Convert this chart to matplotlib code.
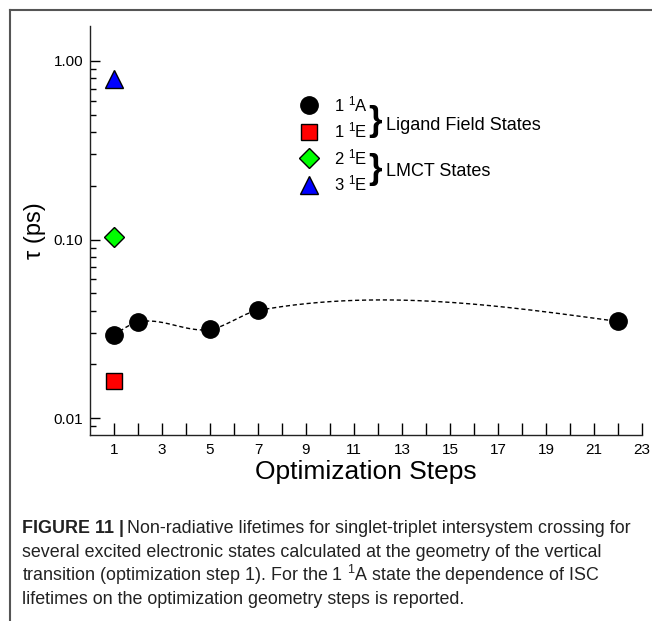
import numpy as np
import matplotlib
matplotlib.use("Agg")
import matplotlib.pyplot as plt
from matplotlib.lines import Line2D

plt.rcParams.update({
    "font.family": ["Liberation Sans", "DejaVu Sans"],
    "mathtext.fontset": "custom",
    "mathtext.rm": "Liberation Sans",
    "mathtext.it": "Liberation Sans:italic",
    "mathtext.bf": "Liberation Sans:bold",
})

# data
steps_1A = [1, 2, 5, 7, 22]
tau_1A = [0.0291, 0.0345, 0.0314, 0.0401, 0.0348]
step_1E, tau_1E = [1], [0.0161]
step_2E, tau_2E = [1], [0.103]
step_3E, tau_3E = [1], [0.79]

W, H = 652, 621
DPI = 100


def smooth_guide(x, y, n=60):
    """cubic Hermite through the points (log space), for the dashed guide."""
    x = np.asarray(x, float)
    ly = np.log10(np.asarray(y, float))
    sec = np.diff(ly) / np.diff(x)
    m = np.empty_like(ly)
    m[1:-1] = 0.5 * (sec[:-1] + sec[1:])
    m[0] = (3 * sec[0] - m[1]) / 2
    m[-1] = (3 * sec[-1] - m[-2]) / 2
    xs, ys = [], []
    for i in range(len(x) - 1):
        h = x[i + 1] - x[i]
        t = np.linspace(0, 1, n)
        h00 = 2 * t**3 - 3 * t**2 + 1
        h10 = t**3 - 2 * t**2 + t
        h01 = -2 * t**3 + 3 * t**2
        h11 = t**3 - t**2
        xs.append(x[i] + h * t)
        ys.append(h00 * ly[i] + h10 * h * m[i] + h01 * ly[i + 1] + h11 * h * m[i + 1])
    return np.concatenate(xs), 10 ** np.concatenate(ys)


fig = plt.figure(figsize=(W / DPI, H / DPI), dpi=DPI)
ax = fig.add_axes([90 / W, 1 - 435 / H, 552 / W, 409 / H])

gx, gy = smooth_guide(steps_1A, tau_1A)
ax.plot(gx, gy, color="black", lw=1.0, ls=(0, (3, 2)), zorder=2)

mk = dict(markeredgecolor="black", markeredgewidth=1.0, ls="none", zorder=3)
ax.plot(steps_1A, tau_1A, "o", color="black", markersize=12.5,
        label=r"1 $^{1}$A", **mk)
ax.plot(step_1E, tau_1E, "s", color="#ff0000", markersize=11,
        label=r"1 $^{1}$E", **mk)
ax.plot(step_2E, tau_2E, "D", color="#00ff00", markersize=10.5,
        label=r"2 $^{1}$E", **mk)
ax.plot(step_3E, tau_3E, "^", color="#0000ff", markersize=12.5,
        label=r"3 $^{1}$E", **mk)

ax.set_yscale("log")
ax.set_xlim(0, 23)
ax.set_ylim(0.00805, 1.57)
for s in ["top", "right"]:
    ax.spines[s].set_visible(False)
for s in ["left", "bottom"]:
    ax.spines[s].set_linewidth(1.0)
    ax.spines[s].set_color("#222222")

ax.set_xticks(range(1, 24, 2))
ax.set_xticks(range(2, 23, 2), minor=True)
ax.set_yticks([0.01, 0.1, 1.0])
ax.set_yticklabels(["0.01", "0.10", "1.00"])
ax.tick_params(axis="x", which="both", direction="in", length=9, width=1,
               labelsize=11, pad=6)
ax.tick_params(axis="y", which="major", direction="in", length=7.5, width=1,
               labelsize=11, pad=5)
ax.tick_params(axis="y", which="minor", direction="in", length=4.5, width=1)
ax.yaxis.set_minor_formatter(matplotlib.ticker.NullFormatter())

ax.set_xlabel("Optimization Steps", fontsize=19, labelpad=2)
ax.set_ylabel("\u03c4 (ps)", fontsize=17, labelpad=5)

leg = ax.legend(loc="center left", bbox_to_anchor=(301 / W, 1 - 144 / H),
                bbox_transform=fig.transFigure, frameon=False, fontsize=12,
                handlelength=1.0, handletextpad=1.0, borderpad=0,
                borderaxespad=0, labelspacing=0.4)

fig.text(375 / W, 1 - 121 / H, "}", fontsize=25, fontweight="bold",
         ha="center", va="center")
fig.text(375 / W, 1 - 169 / H, "}", fontsize=25, fontweight="bold",
         ha="center", va="center")
fig.text(386 / W, 1 - 125 / H, "Ligand Field States", fontsize=13,
         ha="left", va="center")
fig.text(386 / W, 1 - 172 / H, "LMCT States", fontsize=13,
         ha="left", va="center")

# outer frame
fig.add_artist(Line2D([10 / W, 1], [1 - 10 / H, 1 - 10 / H], color="#555555",
                      lw=1.5, transform=fig.transFigure))
fig.add_artist(Line2D([10 / W, 10 / W], [1 - 10 / H, 0], color="#555555",
                      lw=1.5, transform=fig.transFigure))

# caption
cap_fs = 12.9
fig.canvas.draw()
r = fig.canvas.get_renderer()
t_bold = fig.text(22 / W, 1 - 533 / H, "FIGURE 11 |", fontsize=cap_fs,
                  fontweight="bold", va="baseline", color="#222222")
bb = t_bold.get_window_extent(r)
fig.text((bb.x1 + 3) / W, 1 - 533 / H,
         "Non-radiative lifetimes for singlet-triplet intersystem crossing for",
         fontsize=cap_fs, va="baseline", color="#222222")
lines = [
    "several excited electronic states calculated at the geometry of the vertical",
    r"transition (optimization step 1). For the 1 $^{1}$A state the dependence of ISC",
    "lifetimes on the optimization geometry steps is reported.",
]
for i, txt in enumerate(lines):
    fig.text(22 / W, 1 - (557 + 23.7 * i) / H, txt, fontsize=cap_fs,
             va="baseline", color="#222222")

fig.savefig("out.png", dpi=DPI)
